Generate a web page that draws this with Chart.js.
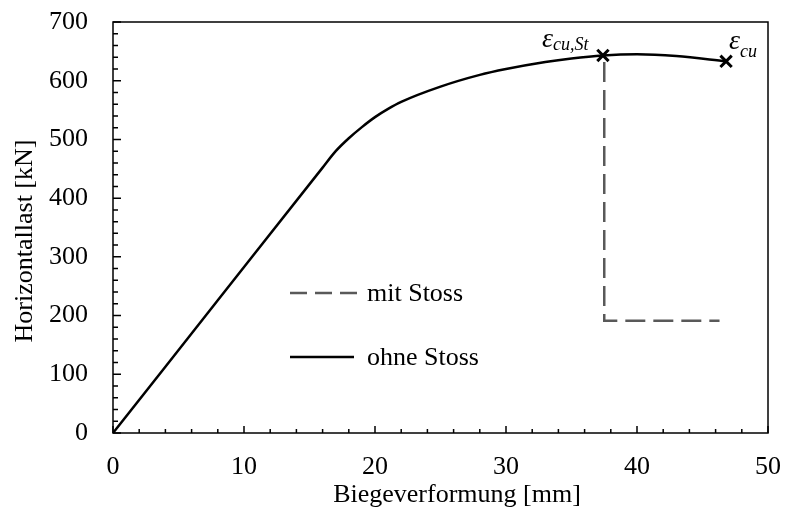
<!DOCTYPE html>
<html>
<head>
  <title>Horizontallast</title>
  <script src="https://cdn.jsdelivr.net/npm/chart.js@4/dist/chart.umd.min.js"></script>
  <style>
    body { margin: 0; background: #fff; }
  </style>
</head>
<body>
  <canvas id="lastChart" width="786" height="514"></canvas>
  <script>
    // Biegeverformung [mm] / Horizontallast [kN]
    var ohneX = [0, 8, 16, 17, 18, 19, 20, 21, 22, 25, 28, 30, 33, 35, 37.4, 40, 43, 46.8];
    var ohneY = [0, 226, 452, 480, 502, 521, 538, 552, 564, 590, 610, 620, 632, 638, 643, 645, 642, 633];
    var mitX = [37.5, 37.5, 46.3];
    var mitY = [632, 191, 191];
    var markerX = [37.4, 46.8];
    var markerY = [643, 633];
    var markerLabels = ['cu,St', 'cu'];
    var xTicks = [0, 10, 20, 30, 40, 50];
    var yTicks = [0, 100, 200, 300, 400, 500, 600, 700];

    var serif = 'Liberation Serif';
    var ctx = document.getElementById('lastChart').getContext('2d');

    function pts(xs, ys) {
      return xs.map((v, i) => ({ x: v, y: ys[i] }));
    }

    // frame, inner ticks, axis titles, legend and strain labels
    var extras = {
      id: 'extras',
      afterDraw(chart) {
        var c = chart.ctx, a = chart.chartArea;
        var sx = chart.scales.x, sy = chart.scales.y;
        c.save();
        c.strokeStyle = '#000';
        c.lineWidth = 1.5;
        c.strokeRect(a.left, a.top, a.right - a.left, a.bottom - a.top);
        c.beginPath();
        for (var v = 0; v <= 50; v += 2) {
          var px = sx.getPixelForValue(v);
          var len = v % 10 == 0 ? 7 : 4;
          c.moveTo(px, a.bottom);
          c.lineTo(px, a.bottom - len);
        }
        for (var w = 0; w <= 700; w += 20) {
          var py = sy.getPixelForValue(w);
          var l2 = w % 100 == 0 ? 8 : 5;
          c.moveTo(a.left, py);
          c.lineTo(a.left + l2, py);
        }
        c.stroke();

        // axis titles
        c.fillStyle = '#000';
        c.font = '26px ' + serif;
        c.textAlign = 'center';
        c.textBaseline = 'middle';
        c.fillText('Biegeverformung [mm]', 457, 495);
        c.save();
        c.translate(25, 241);
        c.rotate(-Math.PI / 2);
        c.fillText('Horizontallast [kN]', 0, 0);
        c.restore();

        // legend
        var lx = a.left + 177;
        c.lineWidth = 2.5;
        c.strokeStyle = '#595959';
        c.setLineDash([17, 8]);
        c.beginPath();
        c.moveTo(lx, 293); c.lineTo(lx + 68, 293);
        c.stroke();
        c.setLineDash([]);
        c.strokeStyle = '#000';
        c.beginPath();
        c.moveTo(lx, 357); c.lineTo(lx + 64, 357);
        c.stroke();
        c.textAlign = 'left';
        c.textBaseline = 'alphabetic';
        c.fillText('mit Stoss', lx + 77, 301);
        c.fillText('ohne Stoss', lx + 77, 365);

        // epsilon labels next to the markers
        markerX.forEach((mx, i) => {
          var px = sx.getPixelForValue(mx);
          var py = sy.getPixelForValue(markerY[i]);
          var ex = i == 0 ? px - 61 : px + 3;
          var eb = i == 0 ? py - 8 : py - 12;
          c.font = 'italic 28px ' + serif;
          c.fillText('\u03b5', ex, eb);
          var ew = c.measureText('\u03b5').width;
          c.font = 'italic 18px ' + serif;
          c.fillText(markerLabels[i], ex + ew, eb + (i == 0 ? 3 : 8));
        });
        c.restore();
      }
    };

    new Chart(ctx, {
      type: 'scatter',
      data: {
        datasets: [{
          label: 'mit Stoss',
          data: pts(mitX, mitY),
          showLine: true,
          borderColor: '#595959',
          borderWidth: 2.5,
          borderDash: [20, 8],
          pointRadius: 0,
          fill: false
        }, {
          label: 'ohne Stoss',
          data: pts(ohneX, ohneY),
          showLine: true,
          borderColor: '#000',
          borderWidth: 2.5,
          cubicInterpolationMode: 'monotone',
          pointRadius: 0,
          fill: false
        }, {
          label: 'marker',
          data: pts(markerX, markerY),
          showLine: false,
          pointStyle: 'crossRot',
          pointRadius: 8,
          pointBorderWidth: 3,
          borderColor: '#000',
          backgroundColor: '#000'
        }]
      },
      options: {
        responsive: false,
        animation: false,
        layout: { padding: { left: 0, top: 22, right: 18, bottom: 0 } },
        plugins: { legend: { display: false }, tooltip: { enabled: false } },
        scales: {
          x: {
            type: 'linear',
            min: 0, max: 50,
            afterFit: (s) => { s.height = 81; s.paddingLeft = 0; s.paddingRight = 0; },
            afterBuildTicks: (s) => { s.ticks = xTicks.map(v => ({ value: v })); },
            grid: { display: false },
            border: { display: false },
            ticks: { color: '#000', padding: 11, maxRotation: 0, font: { family: serif, size: 26 } }
          },
          y: {
            type: 'linear',
            min: 0, max: 700,
            afterFit: (s) => { s.width = 113; s.paddingTop = 0; s.paddingBottom = 0; },
            afterBuildTicks: (s) => { s.ticks = yTicks.map(v => ({ value: v })); },
            grid: { display: false },
            border: { display: false },
            ticks: { color: '#000', padding: 17, font: { family: serif, size: 26 } }
          }
        }
      },
      plugins: [extras]
    });
  </script>
</body>
</html>
